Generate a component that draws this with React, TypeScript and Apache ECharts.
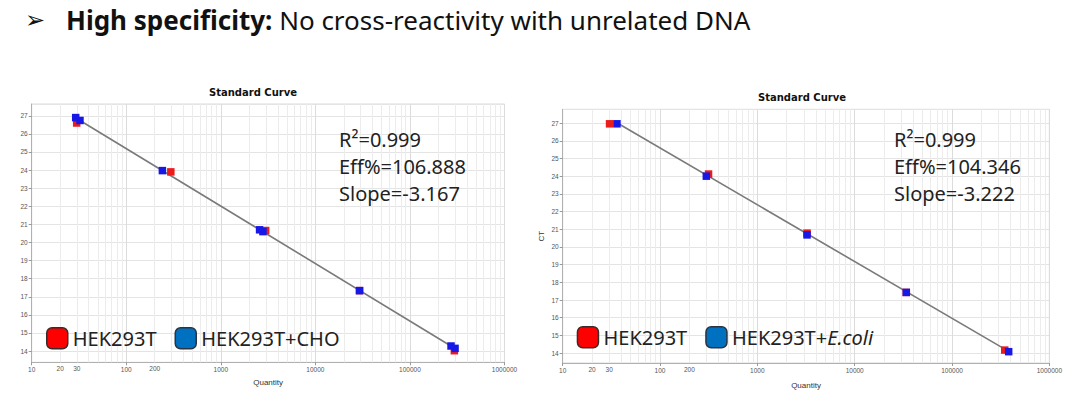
import React, { useEffect, useRef } from 'react';
import * as echarts from 'echarts';

const HEADING_BOLD = 'High specificity:';
const HEADING_REST = ' No cross-reactivity with unrelated DNA';
const CHART_TITLE = 'Standard Curve';
const X_NAME = 'Quantity';
const Y_NAME = 'CT';
const EXTRA_X_LABELS = [20, 30, 200];

const LEFT_STATS = ['R²=0.999', 'Eff%=106.888', 'Slope=-3.167'];
const RIGHT_STATS = ['R²=0.999', 'Eff%=104.346', 'Slope=-3.222'];

const LEFT_NAMES = ['HEK293T', 'HEK293T+CHO'];
const RIGHT_NAMES = ['HEK293T', 'HEK293T+E.coli'];

const LEFT_RED = [[29.9, 26.6], [296, 23.9], [2980, 20.66], [29300, 17.34], [295000, 14.02]];
const LEFT_BLUE = [[29.2, 26.9], [32.4, 26.74], [241, 23.97], [2570, 20.7], [2790, 20.6], [29300, 17.34], [272000, 14.28], [300000, 14.15]];
const LEFT_FIT = [[32.4, 26.74], [312000, 14.09]];

const RIGHT_RED = [[30.3, 26.96], [315, 24.12], [3240, 20.78], [33900, 17.43], [348000, 14.17]];
const RIGHT_BLUE = [[36.1, 26.96], [299, 24.0], [3240, 20.68], [33900, 17.43], [382000, 14.08]];
const RIGHT_FIT = [[37.5, 26.96], [398000, 14.04]];

const LEFT_Y_RANGE = [13.38, 27.65];
const RIGHT_Y_RANGE = [13.44, 27.78];
const X_RANGE = [10, 1000000];

const FONT = '"Noto Sans", sans-serif';
const SMALL = '"Liberation Sans", Arial, sans-serif';

const minorLines = () => {
  const out: any[] = [];
  [10, 100, 1000, 10000, 100000].forEach((d) => {
    for (let m = 2; m <= 9; m++) {
      const v = m * d;
      const lab = EXTRA_X_LABELS.includes(v);
      out.push({
        xAxis: v,
        label: { show: lab, formatter: String(v), position: 'start', distance: 3, fontSize: 6.5, color: '#555', fontFamily: SMALL },
      });
    }
  });
  return out;
};

const xAxisOf = (gridIndex: number, nameGap: number) => ({
  type: 'log',
  logBase: 10,
  gridIndex,
  min: X_RANGE[0],
  max: X_RANGE[1],
  splitNumber: 5,
  name: X_NAME,
  nameLocation: 'middle',
  nameGap,
  nameTextStyle: { fontSize: 8, color: '#333', fontFamily: SMALL },
  axisLine: { show: true, lineStyle: { color: '#b0b0b0', width: 1 } },
  axisTick: { show: true, length: 3, lineStyle: { color: '#999' } },
  axisLabel: { fontSize: 6.5, color: '#555', margin: 4, fontFamily: SMALL, formatter: (v: number) => String(Math.round(v)) },
  splitLine: { show: true, lineStyle: { color: '#dcdcdc', width: 1 } },
});

const yAxisOf = (gridIndex: number, range: number[], showName: boolean) => ({
  type: 'value',
  gridIndex,
  min: range[0],
  max: range[1],
  splitNumber: 14,
  minInterval: 1,
  maxInterval: 1,
  name: showName ? Y_NAME : '',
  nameLocation: 'middle',
  nameGap: 17,
  nameTextStyle: { fontSize: 8, color: '#333', fontFamily: SMALL },
  axisLine: { show: true, lineStyle: { color: '#b0b0b0', width: 1 } },
  axisTick: { show: true, length: 3, lineStyle: { color: '#999' } },
  axisLabel: { fontSize: 6.5, color: '#555', margin: 4, fontFamily: SMALL, showMinLabel: false, showMaxLabel: false },
  splitLine: { show: true, lineStyle: { color: '#e4e4e4', width: 1 } },
});

const RED = '#ea1c1c';
const BLUE = '#1818e6';

const seriesFor = (idx: number, names: string[], red: number[][], blue: number[][], fit: number[][]) => [
  {
    type: 'line',
    name: 'fit' + idx,
    xAxisIndex: idx,
    yAxisIndex: idx,
    data: fit,
    symbol: 'none',
    lineStyle: { color: '#7a7a7a', width: 1.6 },
    z: 3,
    silent: true,
  },
  {
    type: 'scatter',
    name: names[0],
    xAxisIndex: idx,
    yAxisIndex: idx,
    data: red,
    symbol: 'rect',
    symbolSize: 7.5,
    itemStyle: { color: RED, opacity: 1 },
    z: 4,
    markLine: {
      silent: true,
      symbol: 'none',
      animation: false,
      lineStyle: { color: '#ececec', width: 1, type: 'solid' },
      label: { show: false },
      data: minorLines(),
      z: 1,
    },
  },
  {
    type: 'scatter',
    name: names[1],
    xAxisIndex: idx,
    yAxisIndex: idx,
    data: blue,
    symbol: 'rect',
    symbolSize: 7.5,
    itemStyle: { color: BLUE, opacity: 1 },
    z: 5,
  },
];

const legendOf = (left: number, top: number, names: string[]) => ({
  left,
  top,
  padding: 0,
  orient: 'horizontal',
  itemWidth: 21,
  itemHeight: 21,
  itemGap: 18,
  icon: 'roundRect',
  selectedMode: false,
  data: [
    { name: names[0], itemStyle: { color: '#ff0000', borderColor: '#3a2a2a', borderWidth: 1.5 } },
    { name: names[1], itemStyle: { color: '#0070c0', borderColor: '#2a3440', borderWidth: 1.5 } },
  ],
  formatter: (name: string) =>
    name.endsWith('E.coli') ? '{n|' + name.replace('E.coli', '') + '}{i|E.coli}' : '{n|' + name + '}',
  textStyle: {
    fontSize: 20,
    fontFamily: FONT,
    color: '#222',
    rich: {
      n: { fontSize: 20, fontFamily: FONT, color: '#222' },
      i: { fontSize: 20, fontFamily: FONT, color: '#222', fontStyle: 'italic' },
    },
  },
});

const statsText = (x: number, y: number, lines: string[]) => ({
  type: 'text',
  x,
  y,
  z: 100,
  style: { text: lines.join('\n'), fontSize: 20, lineHeight: 27, fontFamily: FONT, fill: '#222', align: 'left', verticalAlign: 'top' },
});

export default function App() {
  const ref = useRef<HTMLDivElement>(null);
  useEffect(() => {
    if (!ref.current) return;
    const chart = echarts.init(ref.current, undefined, { renderer: 'svg' });
    chart.setOption({
      animation: false,
      backgroundColor: '#ffffff',
      grid: [
        { left: 31.7, top: 104, width: 472.8, height: 258.3, show: true, borderColor: '#dadada', borderWidth: 1, backgroundColor: '#fff' },
        { left: 562.7, top: 109.3, width: 499, height: 257.4, show: true, borderColor: '#dadada', borderWidth: 1, backgroundColor: '#fff' },
      ],
      xAxis: [xAxisOf(0, 16), xAxisOf(1, 18)],
      yAxis: [yAxisOf(0, LEFT_Y_RANGE, false), yAxisOf(1, RIGHT_Y_RANGE, true)],
      legend: [legendOf(46, 327, LEFT_NAMES), legendOf(576.7, 326, RIGHT_NAMES)],
      series: [
        ...seriesFor(0, LEFT_NAMES, LEFT_RED, LEFT_BLUE, LEFT_FIT),
        ...seriesFor(1, RIGHT_NAMES, RIGHT_RED, RIGHT_BLUE, RIGHT_FIT),
      ],
      graphic: [
        { type: 'text', x: 25, y: 20, style: { text: '➢', fontSize: 24, fontFamily: '"DejaVu Sans", sans-serif', fill: '#111', verticalAlign: 'middle' } },
        {
          type: 'text',
          x: 66,
          y: 20,
          style: {
            text: '{b|' + HEADING_BOLD + '}{c|' + HEADING_REST + '}',
            verticalAlign: 'middle',
            rich: {
              b: { fontSize: 26, fontWeight: 'bold', fontFamily: FONT, fill: '#111' },
              c: { fontSize: 26, fontFamily: FONT, fill: '#111' },
            },
          },
        },
        { type: 'text', x: 253, y: 92, style: { text: CHART_TITLE, fontSize: 10, fontWeight: 'bold', fontFamily: '"DejaVu Sans", sans-serif', fill: '#111', align: 'center', verticalAlign: 'middle' } },
        { type: 'text', x: 802, y: 97, style: { text: CHART_TITLE, fontSize: 10, fontWeight: 'bold', fontFamily: '"DejaVu Sans", sans-serif', fill: '#111', align: 'center', verticalAlign: 'middle' } },
        statsText(339, 126, LEFT_STATS),
        statsText(894, 126, RIGHT_STATS),
      ],
    });
    return () => chart.dispose();
  }, []);
  return <div ref={ref} style={{ position: 'fixed', left: 0, top: 0, width: 1065, height: 394, background: '#fff' }} />;
}
